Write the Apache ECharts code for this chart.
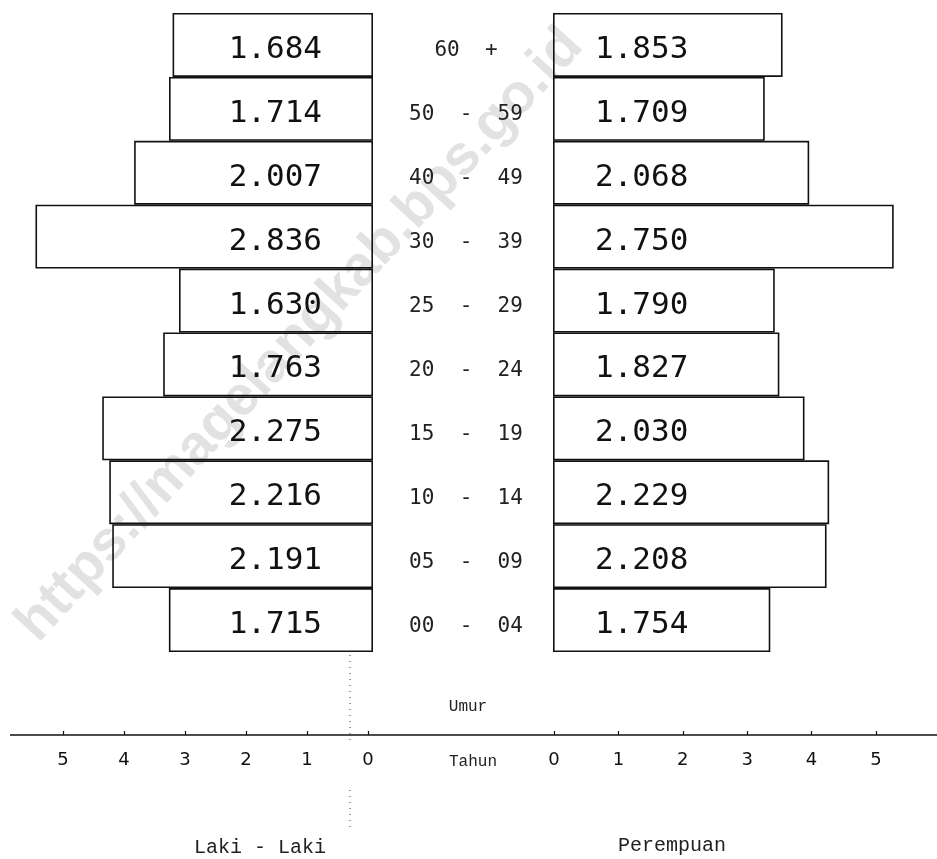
<!DOCTYPE html>
<html>
<head>
<meta charset="utf-8">
<script src="https://cdn.jsdelivr.net/npm/echarts@6/dist/echarts.min.js"></script>
<style>
html,body{margin:0;padding:0;background:#fff;}
#c{width:937px;height:859px;}
</style>
</head>
<body>
<div id="c"></div>
<script>
// Age groups, bottom to top
var ages = ['00 - 04','05 - 09','10 - 14','15 - 19','20 - 24','25 - 29','30 - 39','40 - 49','50 - 59','60 +'];
// Laki-laki (thousands)
var male = [1.715, 2.191, 2.216, 2.275, 1.763, 1.630, 2.836, 2.007, 1.714, 1.684];
// Perempuan (thousands)
var female = [1.754, 2.208, 2.229, 2.030, 1.827, 1.790, 2.750, 2.068, 1.709, 1.853];
// Bottom scale tick values
var scaleTicks = [0, 1, 2, 3, 4, 5];

var chart = echarts.init(document.getElementById('c'));
var monoFont = 'DejaVu Sans Mono';
var barStyle = {color: 'rgba(255,255,255,0)', borderColor: '#111', borderWidth: 1.6};

var option = {
  backgroundColor: '#fff',
  animation: false,
  grid: [
    {left: 10, top: 13, width: 363, height: 639},
    {left: 553, top: 13, width: 363, height: 639},
    {left: 63, top: 734, width: 305, height: 1},
    {left: 554, top: 734, width: 322, height: 1}
  ],
  xAxis: [
    {gridIndex: 0, type: 'value', inverse: true, min: 0, max: 3.05, show: false},
    {gridIndex: 1, type: 'value', min: 0, max: 2.93, show: false},
    {gridIndex: 2, type: 'value', inverse: true, min: scaleTicks[0], max: scaleTicks[scaleTicks.length-1], interval: 1,
      axisLine: {show: false}, splitLine: {show: false},
      axisTick: {show: true, inside: true, length: 4, lineStyle: {color: '#111', width: 1.2}},
      axisLabel: {fontFamily: 'DejaVu Sans', fontSize: 18, color: '#111', margin: 16}},
    {gridIndex: 3, type: 'value', min: scaleTicks[0], max: scaleTicks[scaleTicks.length-1], interval: 1,
      axisLine: {show: false}, splitLine: {show: false},
      axisTick: {show: true, inside: true, length: 4, lineStyle: {color: '#111', width: 1.2}},
      axisLabel: {fontFamily: 'DejaVu Sans', fontSize: 18, color: '#111', margin: 16}}
  ],
  yAxis: [
    {gridIndex: 0, type: 'category', data: ages, show: false},
    {gridIndex: 1, type: 'category', data: ages,
      axisLine: {show: false}, axisTick: {show: false},
      axisLabel: {align: 'center', verticalAlign: 'top', lineHeight: 12, margin: 87,
        fontFamily: monoFont, fontSize: 21, color: '#222',
        formatter: function (v) { return v.replace(/ /g, '  '); }}},
    {gridIndex: 2, type: 'value', show: false},
    {gridIndex: 3, type: 'value', show: false}
  ],
  graphic: [
    {type: 'text', z: -10, x: 300, y: 335, rotation: 47.5 * Math.PI / 180,
      style: {text: 'https://magelangkab.bps.go.id', fill: '#e2e2e2',
        font: 'bold 56px "Liberation Sans"', textAlign: 'center', textVerticalAlign: 'middle'}},
    {type: 'line', shape: {x1: 10, y1: 735, x2: 937, y2: 735}, style: {stroke: '#111', lineWidth: 1.5}},
    {type: 'line', shape: {x1: 350, y1: 655, x2: 350, y2: 740}, style: {stroke: '#333', lineWidth: 1, lineDash: [1, 5]}},
    {type: 'line', shape: {x1: 350, y1: 790, x2: 350, y2: 830}, style: {stroke: '#333', lineWidth: 1, lineDash: [1, 5]}},
    {type: 'text', x: 468, y: 707, style: {text: 'Umur', font: '16px "Liberation Mono"', fill: '#222', textAlign: 'center', textVerticalAlign: 'middle'}},
    {type: 'text', x: 473, y: 762, style: {text: 'Tahun', font: '16px "Liberation Mono"', fill: '#222', textAlign: 'center', textVerticalAlign: 'middle'}},
    {type: 'text', x: 260, y: 848, style: {text: 'Laki - Laki', font: '20px "Liberation Mono"', fill: '#222', textAlign: 'center', textVerticalAlign: 'middle'}},
    {type: 'text', x: 672, y: 846, style: {text: 'Perempuan', font: '20px "Liberation Mono"', fill: '#222', textAlign: 'center', textVerticalAlign: 'middle'}}
  ],
  series: [
    {type: 'bar', xAxisIndex: 0, yAxisIndex: 0, data: male, barCategoryGap: '0%',
      itemStyle: barStyle,
      label: {show: true, position: 'insideRight', distance: 51, offset: [0, 5],
        fontFamily: monoFont, fontSize: 31, color: '#111',
        formatter: function (p) { return p.value.toFixed(3); }}},
    {type: 'bar', xAxisIndex: 1, yAxisIndex: 1, data: female, barCategoryGap: '0%',
      itemStyle: barStyle,
      label: {show: true, position: 'insideLeft', distance: 42, offset: [0, 5],
        fontFamily: monoFont, fontSize: 31, color: '#111',
        formatter: function (p) { return p.value.toFixed(3); }}}
  ]
};
chart.setOption(option);
</script>
</body>
</html>
